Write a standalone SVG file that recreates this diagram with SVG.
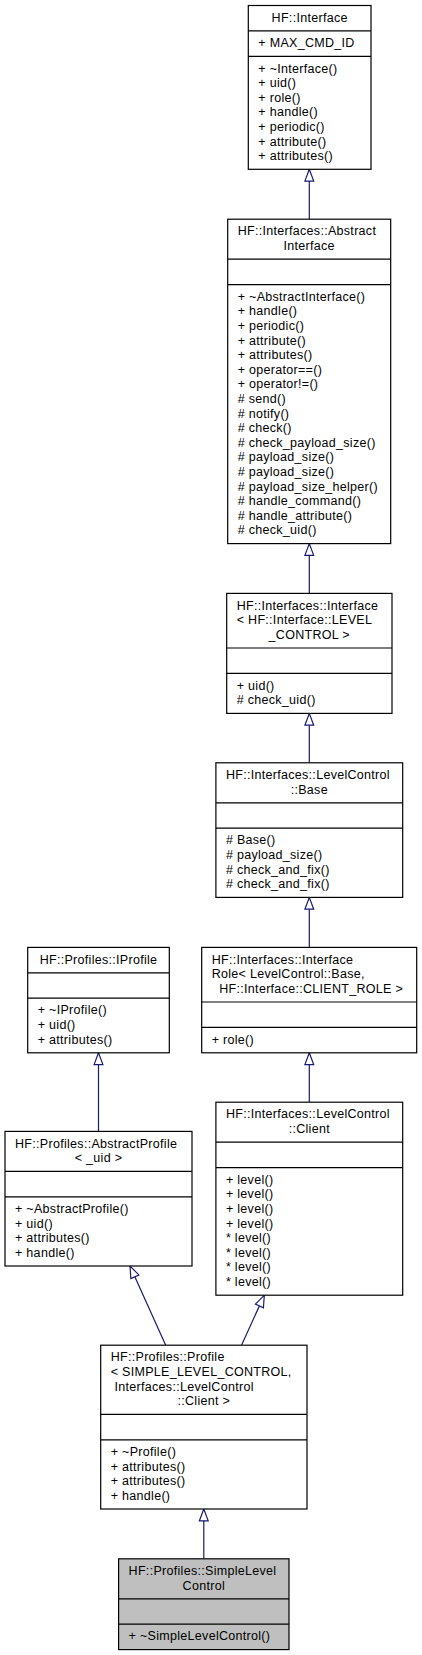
<svg xmlns="http://www.w3.org/2000/svg" width="422" height="1655" viewBox="0 0 422 1655">
<style>
  rect.b { fill: #ffffff; stroke: #000000; stroke-width: 1.2; }
  rect.g { fill: #bfbfbf; stroke: #000000; stroke-width: 1.2; }
  line.s { stroke: #000000; stroke-width: 1.2; }
  text { font-family: "Liberation Sans", Arial, Helvetica, sans-serif; font-size: 12.5px; letter-spacing: 0.3px; fill: #000000; }
  text.c { text-anchor: middle; }
  .e { fill: none; stroke: #191970; stroke-width: 1.2; }
</style>
<defs>
  <marker id="tri" viewBox="0 0 13 10" refX="12.4" refY="5" markerWidth="13" markerHeight="10" markerUnits="userSpaceOnUse" orient="auto" overflow="visible">
    <path d="M0.6,0.6 L12.4,5 L0.6,9.4 Z" fill="#ffffff" stroke="#191970" stroke-width="1.2"/>
  </marker>
</defs>

<g id="connectors">
  <path class="e" d="M309.3,219.2 L309.3,169.3" marker-end="url(#tri)"/>
  <path class="e" d="M309.3,593.4 L309.3,543.6" marker-end="url(#tri)"/>
  <path class="e" d="M309.3,762.8 L309.3,713.4" marker-end="url(#tri)"/>
  <path class="e" d="M309.3,947.4 L309.3,897.4" marker-end="url(#tri)"/>
  <path class="e" d="M309.3,1102.2 L309.3,1052.8" marker-end="url(#tri)"/>
  <path class="e" d="M98.5,1131.4 L98.5,1052.8" marker-end="url(#tri)"/>
  <path class="e" d="M165.7,1345.2 L130,1266" marker-end="url(#tri)"/>
  <path class="e" d="M241.5,1345.2 L264.3,1295.2" marker-end="url(#tri)"/>
  <path class="e" d="M203.8,1558.8 L203.8,1509" marker-end="url(#tri)"/>
</g>

<g id="node_interface">
  <rect class="b" x="248.3" y="5.5" width="122.7" height="163.8"/>
  <line class="s" x1="248.3" y1="30.9" x2="371" y2="30.9"/>
  <line class="s" x1="248.3" y1="56.3" x2="371" y2="56.3"/>
  <text class="c" x="309.7" y="21.7">HF::Interface</text>
  <text x="258.3" y="47.1">+ MAX_CMD_ID</text>
  <text x="258.3" y="72.5">+ ~Interface()</text>
  <text x="258.3" y="87.1">+ uid()</text>
  <text x="258.3" y="101.7">+ role()</text>
  <text x="258.3" y="116.3">+ handle()</text>
  <text x="258.3" y="130.9">+ periodic()</text>
  <text x="258.3" y="145.5">+ attribute()</text>
  <text x="258.3" y="160.1">+ attributes()</text>
</g>

<g id="node_abstract_interface">
  <rect class="b" x="227.7" y="219.2" width="163" height="324.4"/>
  <line class="s" x1="227.7" y1="259.2" x2="390.7" y2="259.2"/>
  <line class="s" x1="227.7" y1="284.6" x2="390.7" y2="284.6"/>
  <text x="237.7" y="235.4">HF::Interfaces::Abstract</text>
  <text class="c" x="309.2" y="250">Interface</text>
  <text x="237.7" y="300.8">+ ~AbstractInterface()</text>
  <text x="237.7" y="315.4">+ handle()</text>
  <text x="237.7" y="330">+ periodic()</text>
  <text x="237.7" y="344.6">+ attribute()</text>
  <text x="237.7" y="359.2">+ attributes()</text>
  <text x="237.7" y="373.8">+ operator==()</text>
  <text x="237.7" y="388.4">+ operator!=()</text>
  <text x="237.7" y="403"># send()</text>
  <text x="237.7" y="417.6"># notify()</text>
  <text x="237.7" y="432.2"># check()</text>
  <text x="237.7" y="446.8"># check_payload_size()</text>
  <text x="237.7" y="461.4"># payload_size()</text>
  <text x="237.7" y="476"># payload_size()</text>
  <text x="237.7" y="490.6"># payload_size_helper()</text>
  <text x="237.7" y="505.2"># handle_command()</text>
  <text x="237.7" y="519.8"># handle_attribute()</text>
  <text x="237.7" y="534.4"># check_uid()</text>
</g>

<g id="node_interface_level_control">
  <rect class="b" x="226.7" y="593.4" width="165.3" height="120"/>
  <line class="s" x1="226.7" y1="648" x2="392" y2="648"/>
  <line class="s" x1="226.7" y1="673.4" x2="392" y2="673.4"/>
  <text x="236.7" y="609.6">HF::Interfaces::Interface</text>
  <text x="236.7" y="624.2">&lt; HF::Interface::LEVEL</text>
  <text class="c" x="309.3" y="638.8">_CONTROL &gt;</text>
  <text x="236.7" y="689.6">+ uid()</text>
  <text x="236.7" y="704.2"># check_uid()</text>
</g>

<g id="node_level_control_base">
  <rect class="b" x="215.9" y="762.8" width="186.8" height="134.6"/>
  <line class="s" x1="215.9" y1="802.8" x2="402.7" y2="802.8"/>
  <line class="s" x1="215.9" y1="828.2" x2="402.7" y2="828.2"/>
  <text x="225.9" y="779">HF::Interfaces::LevelControl</text>
  <text class="c" x="309.3" y="793.6">::Base</text>
  <text x="225.9" y="844.4"># Base()</text>
  <text x="225.9" y="859"># payload_size()</text>
  <text x="225.9" y="873.6"># check_and_fix()</text>
  <text x="225.9" y="888.2"># check_and_fix()</text>
</g>

<g id="node_interface_role">
  <rect class="b" x="201.7" y="947.4" width="215" height="105.4"/>
  <line class="s" x1="201.7" y1="1002" x2="416.7" y2="1002"/>
  <line class="s" x1="201.7" y1="1027.4" x2="416.7" y2="1027.4"/>
  <text x="211.7" y="963.6">HF::Interfaces::Interface</text>
  <text x="211.7" y="978.2">Role&lt; LevelControl::Base,</text>
  <text class="c" x="311.2" y="992.8">HF::Interface::CLIENT_ROLE &gt;</text>
  <text x="211.7" y="1043.6">+ role()</text>
</g>

<g id="node_iprofile">
  <rect class="b" x="27.7" y="947.4" width="141.6" height="105.4"/>
  <line class="s" x1="27.7" y1="972.8" x2="169.3" y2="972.8"/>
  <line class="s" x1="27.7" y1="998.2" x2="169.3" y2="998.2"/>
  <text class="c" x="98.5" y="963.6">HF::Profiles::IProfile</text>
  <text x="37.7" y="1014.4">+ ~IProfile()</text>
  <text x="37.7" y="1029">+ uid()</text>
  <text x="37.7" y="1043.6">+ attributes()</text>
</g>

<g id="node_level_control_client">
  <rect class="b" x="215.9" y="1102.2" width="186.8" height="193"/>
  <line class="s" x1="215.9" y1="1142.2" x2="402.7" y2="1142.2"/>
  <line class="s" x1="215.9" y1="1167.6" x2="402.7" y2="1167.6"/>
  <text x="225.9" y="1118.4">HF::Interfaces::LevelControl</text>
  <text class="c" x="309.3" y="1133">::Client</text>
  <text x="225.9" y="1183.8">+ level()</text>
  <text x="225.9" y="1198.4">+ level()</text>
  <text x="225.9" y="1213">+ level()</text>
  <text x="225.9" y="1227.6">+ level()</text>
  <text x="225.9" y="1242.2">* level()</text>
  <text x="225.9" y="1256.8">* level()</text>
  <text x="225.9" y="1271.4">* level()</text>
  <text x="225.9" y="1286">* level()</text>
</g>

<g id="node_abstract_profile">
  <rect class="b" x="5" y="1131.4" width="187" height="134.6"/>
  <line class="s" x1="5" y1="1171.4" x2="192" y2="1171.4"/>
  <line class="s" x1="5" y1="1196.8" x2="192" y2="1196.8"/>
  <text x="15" y="1147.6">HF::Profiles::AbstractProfile</text>
  <text class="c" x="98.5" y="1162.2">&lt; _uid &gt;</text>
  <text x="15" y="1213">+ ~AbstractProfile()</text>
  <text x="15" y="1227.6">+ uid()</text>
  <text x="15" y="1242.2">+ attributes()</text>
  <text x="15" y="1256.8">+ handle()</text>
</g>

<g id="node_profile">
  <rect class="b" x="100.7" y="1345.2" width="206.3" height="163.8"/>
  <line class="s" x1="100.7" y1="1414.4" x2="307" y2="1414.4"/>
  <line class="s" x1="100.7" y1="1439.8" x2="307" y2="1439.8"/>
  <text x="110.7" y="1361.4">HF::Profiles::Profile</text>
  <text x="110.7" y="1376">&lt; SIMPLE_LEVEL_CONTROL,</text>
  <text x="114.5" y="1390.6">Interfaces::LevelControl</text>
  <text class="c" x="203.8" y="1405.2">::Client &gt;</text>
  <text x="110.7" y="1456">+ ~Profile()</text>
  <text x="110.7" y="1470.6">+ attributes()</text>
  <text x="110.7" y="1485.2">+ attributes()</text>
  <text x="110.7" y="1499.8">+ handle()</text>
</g>

<g id="node_simple_level_control">
  <rect class="g" x="118.6" y="1558.8" width="170.4" height="90.8"/>
  <line class="s" x1="118.6" y1="1598.8" x2="289" y2="1598.8"/>
  <line class="s" x1="118.6" y1="1624.2" x2="289" y2="1624.2"/>
  <text x="128.6" y="1575">HF::Profiles::SimpleLevel</text>
  <text class="c" x="203.8" y="1589.6">Control</text>
  <text x="128.6" y="1640.4">+ ~SimpleLevelControl()</text>
</g>
</svg>
